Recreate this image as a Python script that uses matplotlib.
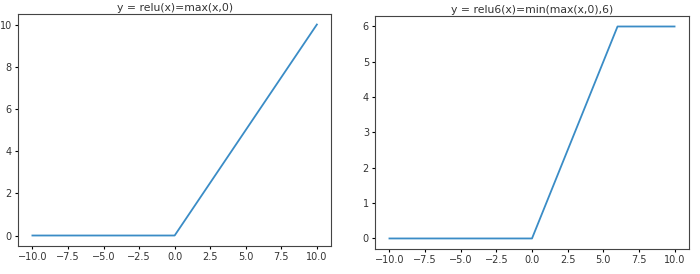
import matplotlib
matplotlib.use('Agg')
import matplotlib.pyplot as plt

# breakpoints of the two curves
relu_x = [-10.0, 0.0, 10.0]
relu_y = [0.0, 0.0, 10.0]

relu6_x = [-10.0, 0.0, 6.0, 10.0]
relu6_y = [0.0, 0.0, 6.0, 6.0]

fig = plt.figure(figsize=(7, 2.74), dpi=100)

ax1 = fig.add_axes([0.026, 0.102, 0.447, 0.847])
ax1.plot(relu_x, relu_y, color='#3a8cc6', linewidth=1.3)
ax1.set_title('y = relu(x)=max(x,0)', fontsize=7.8, pad=2, color='#333333')
ax1.set_xticks([-10, -7.5, -5, -2.5, 0, 2.5, 5, 7.5, 10])
ax1.tick_params(labelsize=7, length=2.5, pad=2, labelcolor='#333333')

ax2 = fig.add_axes([0.536, 0.091, 0.448, 0.851])
ax2.plot(relu6_x, relu6_y, color='#3a8cc6', linewidth=1.3)
ax2.set_title('y = relu6(x)=min(max(x,0),6)', fontsize=7.8, pad=2, color='#333333')
ax2.set_xticks([-10, -7.5, -5, -2.5, 0, 2.5, 5, 7.5, 10])
ax2.tick_params(labelsize=7, length=2.5, pad=2, labelcolor='#333333')

for ax in (ax1, ax2):
    for s in ax.spines.values():
        s.set_color('#444444')

plt.savefig('out.png', dpi=100)
